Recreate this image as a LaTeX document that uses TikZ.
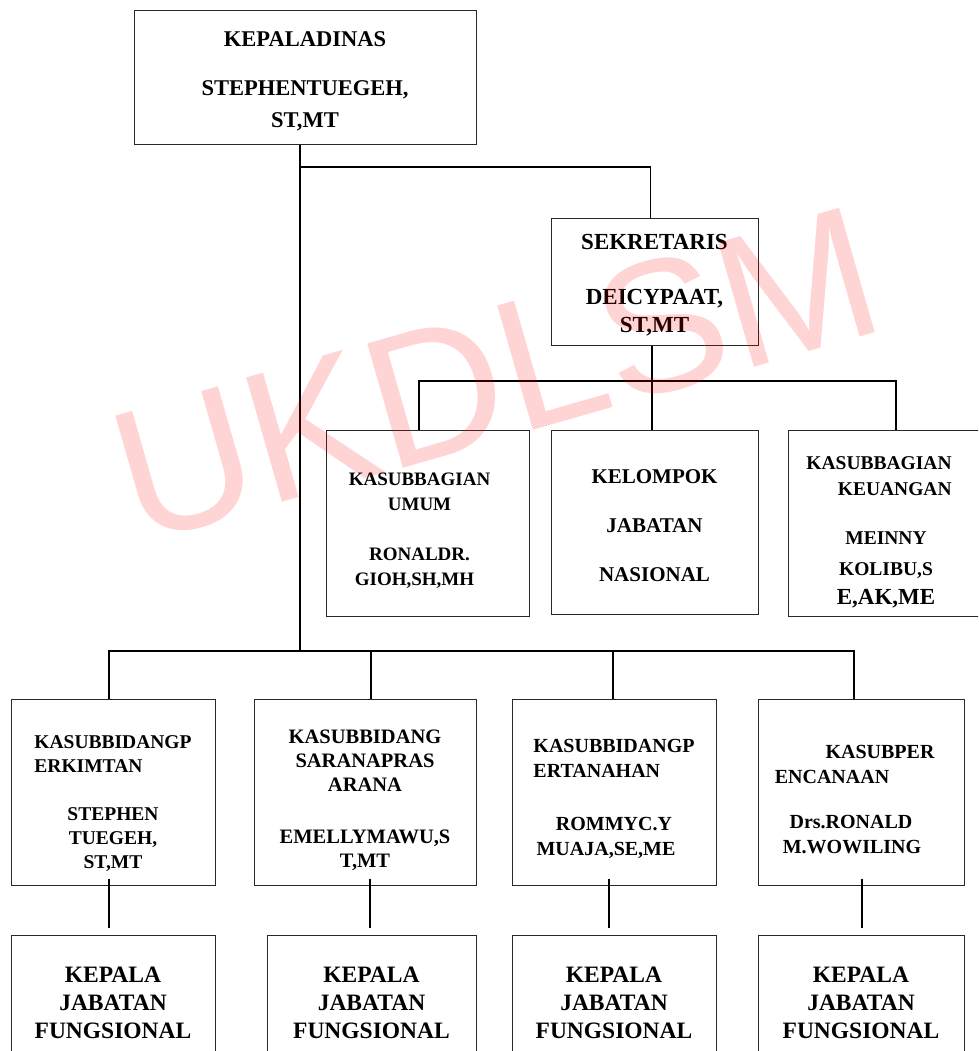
\documentclass[tikz,border=0pt]{standalone}
\usepackage{fontspec}
\setmainfont{Liberation Serif}
\newfontfamily\wmfont{Liberation Sans}
\newcommand{\orgsize}[2]{\bfseries\fontsize{#1}{#2}\selectfont}
\newcommand{\topgap}[1]{\rule{0pt}{#1}} % pushes a box's text down a little
\definecolor{boxline}{RGB}{40,40,40}
\tikzset{
  x=1pt, y=-1pt, % one unit is one pixel of the scan, y runs downwards
  unit/.style={draw=boxline, line width=1pt, inner sep=0pt, align=center,
    minimum width=204pt, minimum height=186pt}, % every office box
  link/.style={line width=1.8pt, black}, % the connecting lines
  wmark/.style={font=\wmfont\fontsize{188}{188}\selectfont, text=red,
    text opacity=0.17, inner sep=0pt}, % the watermark over the chart
}

\begin{document}
\begin{tikzpicture}
  \useasboundingbox (0,0) rectangle (978,1051);
  \clip (0,0) rectangle (978,1051);

  % head of office and secretary
  \node[unit, minimum width=342pt, minimum height=134pt, font=\orgsize{22.5}{32}] (kadis) at (305,78)
    {\topgap{21pt}KEPALADINAS\\[17pt]STEPHENTUEGEH,\\ST,MT};
  \node[unit, minimum width=207pt, minimum height=127pt, font=\orgsize{23}{28}] (sekretaris) at (654.5,281.5)
    {\topgap{23.5pt}SEKRETARIS\\[27pt]DEICYPAAT,\\ST,MT};

  % under the secretary
  \node[unit, minimum width=203pt, font=\orgsize{19}{25}] (umum) at (427.5,523)
    {\topgap{27pt}KASUBBAGIAN\kern16pt\\UMUM\kern16pt\\[25pt]RONALDR.\kern16pt\\GIOH,SH,MH\kern26pt};
  \node[unit, minimum width=207pt, minimum height=184pt, font=\orgsize{21}{25}] (kelompok) at (654.5,522)
    {\topgap{22pt}KELOMPOK\\[24pt]JABATAN\\[24pt]NASIONAL};
  \node[unit, minimum width=196pt, font=\orgsize{19.5}{26}] (keuangan) at (886,523)
    {\topgap{31pt}KASUBBAGIAN\kern14pt\\\phantom{KASUBBAGIAN}\llap{KEUANGAN}\kern14pt\\[23pt]MEINNY\\[5pt]KOLIBU,S\\[3pt]{\fontsize{23}{29}\selectfont E,AK,ME}};

  % sub-fields
  \node[unit, font=\orgsize{19.5}{24}] (perkimtan) at (113,792)
    {\topgap{35pt}KASUBBIDANGP\\\rlap{ERKIMTAN}\phantom{KASUBBIDANGP}\\[24pt]STEPHEN\\TUEGEH,\\ST,MT};
  \node[unit, minimum width=222pt, font=\orgsize{20.5}{24}] (sarana) at (365,792)
    {\topgap{30pt}KASUBBIDANG\\SARANAPRAS\\ARANA\\[28pt]EMELLYMAWU,S\\T,MT};
  \node[unit, font=\orgsize{20}{25}] (pertanahan) at (614,792)
    {\topgap{27pt}KASUBBIDANGP\\\rlap{ERTANAHAN}\phantom{KASUBBIDANGP}\\[28pt]ROMMYC.Y\\MUAJA,SE,ME\kern16pt};
  \node[unit, minimum width=206pt, font=\orgsize{20}{25}] (perencanaan) at (861,792)
    {\topgap{28pt}\kern38pt KASUBPER\\ENCANAAN\kern58pt\\[20pt]Drs.RONALD\kern20pt\\M.WOWILING\kern18pt};

  % functional posts
  \foreach \n/\x/\w in {fung1/113/204, fung2/371.5/209, fung3/614/204, fung4/861/206}
    \node[unit, minimum width=\w pt, minimum height=136pt, font=\orgsize{23.5}{28}] (\n) at (\x,1003)
      {KEPALA\\JABATAN\\FUNGSIONAL};

  % lines
  \coordinate (tee) at (300,167);
  \coordinate (hub) at (300,651);
  \coordinate (midbus) at (652,381);
  \draw[link] ([xshift=-5pt]kadis.south) -- (hub);
  \draw[link] (tee) -| ([xshift=-4pt]sekretaris.north);
  \draw[link] ([xshift=-2.5pt]sekretaris.south) -- ([xshift=-2.5pt]kelompok.north);
  \draw[link] ([xshift=-8.5pt]umum.north) |- (midbus) -| ([xshift=10pt]keuangan.north);
  \draw[link] ([xshift=-4pt]perkimtan.north) |- (hub) -| ([xshift=-7pt]perencanaan.north);
  \foreach \n/\dx in {sarana/6, pertanahan/-1}
    \draw[link] ([xshift=\dx pt]\n.north) -- ([xshift=\dx pt]\n.north |- hub);
  \foreach \a/\b/\dx in {perkimtan/fung1/-4, sarana/fung2/5, pertanahan/fung3/-5, perencanaan/fung4/1}
    \draw[link] ([shift={(\dx pt,7pt)}]\a.south) -- ([shift={(\dx pt,7pt)}]\a.south |- \b.north);

  \node[wmark, rotate=16] (watermark) at (496,374) {UKDLSM};
\end{tikzpicture}
\end{document}
